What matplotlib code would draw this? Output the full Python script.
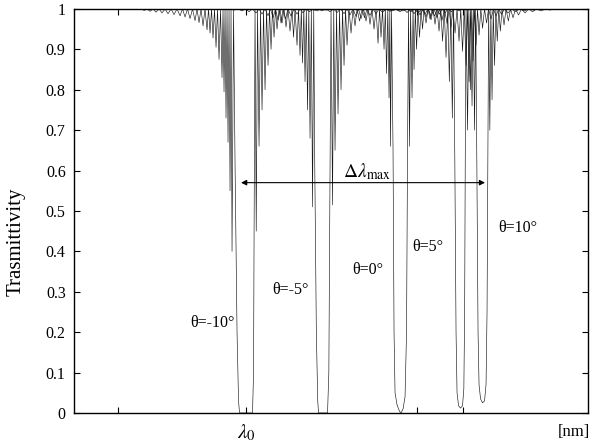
import matplotlib
matplotlib.use('Agg')
import matplotlib.pyplot as plt

plt.rcParams['font.family'] = ['Liberation Serif', 'DejaVu Serif']
plt.rcParams['mathtext.fontset'] = 'stix'

# relative wavelength (arbitrary units) and transmittivity
wl_m10 = [60, 68, 70, 73, 76, 79, 82, 85, 88, 91, 94, 97, 100, 103, 106, 108.5, 111, 113.5,
          116, 118.5, 121, 123, 125, 127, 129, 131, 133, 134.5, 136, 137.5, 139, 140.5, 142,
          143.5, 145, 146.5, 148, 149, 150, 151, 152, 153, 154, 155, 156, 157, 158, 159.5,
          161, 163, 164.5, 165.5, 178.5, 179.5, 180.3, 181,
          182.2, 183.5, 185, 186.5, 188, 189.5, 191, 192.5, 194, 195.5, 197, 198.5, 200, 201.5,
          203, 205, 207, 209, 211.5, 214, 217, 220, 223, 226, 229, 232, 235.5, 239, 243, 247,
          252, 257, 270]
t_m10 = [1, 1, .996, 1, .994, 1, .992, 1, .99, 1, .988, 1, .986, 1, .983, 1, .98, 1,
         .976, 1, .971, 1, .966, 1, .958, 1, .948, 1, .94, 1, .928, 1, .905,
         1, .875, 1, .83, 1, .795, 1, .73, 1, .67, 1, .55, 1, .40, 1,
         .62, .2, .03, 0, 0, .1, .6, 1,
         .45, 1, .66, 1, .75, 1, .80, 1, .86, 1, .90, 1, .93, 1,
         .95, 1, .965, 1, .975, 1, .982, 1, .987, 1, .99, 1, .993, 1, .995, 1,
         .997, 1, 1]

wl_m5 = [140, 150, 155, 160, 164, 168, 171.5, 175, 178.5, 182, 185, 188, 191, 194, 196.5,
         199, 201.5, 204, 206, 208, 210, 212, 214, 216, 218, 219.5, 221, 223, 224.5, 226,
         227.3, 228.5, 229.8, 231, 232.3, 233.5, 234.8, 236, 237.3, 238.5, 239.7,
         240.7, 242.3, 243.7, 244.5, 253.5, 254.8, 256, 257,
         258.5, 259.7, 261, 262.5, 264, 265.5, 267, 268.5, 270, 271.5, 273, 275, 277, 279,
         281, 283, 285.5, 288, 290.5, 293, 296, 299, 302, 305, 308.5, 312, 316, 320, 324.5,
         329, 334, 339, 350]
t_m5 = [1, .998, 1, .997, 1, .995, 1, .993, 1, .99, 1, .987, 1, .983, 1,
        .978, 1, .972, 1, .965, 1, .955, 1, .945, 1, .93, 1, .91, 1, .885,
        1, .866, 1, .82, 1, .75, 1, .68, 1, .51, 1,
        .62, .2, .03, 0, 0, .1, .6, 1,
        .515, 1, .65, 1, .74, 1, .80, 1, .86, 1, .91, 1, .94, 1,
        .958, 1, .97, 1, .978, 1, .984, 1, .988, 1, .991, 1, .994, 1, .996,
        1, .998, 1, 1]

wl_0 = [220, 230, 235, 240, 244, 248, 252, 256, 259.5, 263, 266.5, 270, 273, 276, 279, 282,
        284.5, 287, 289.5, 292, 294, 296, 298, 300, 302, 304, 305.5, 307, 308.5, 310, 311.3,
        312.5, 313.8, 315, 315.8, 316.5, 317.5,
        319, 320, 321, 323, 325.5, 327, 329, 331, 332.5, 333.5, 334.5,
        335.5, 336.5, 338, 339, 340, 341.3, 342.5, 344, 345.5, 347, 348.5, 350, 352, 354,
        356, 358, 360.5, 363, 365.5, 368, 371, 374, 377.5, 381, 385, 389, 393.5, 398, 403,
        408, 420]
t_0 = [1, .998, 1, .997, 1, .995, 1, .993, 1, .991, 1, .988, 1, .985, 1, .981,
       1, .976, 1, .97, 1, .962, 1, .95, 1, .915, 1, .93, 1, .9, 1,
       .84, 1, .78, 1, .66, 1,
       .65, .2, .05, .02, .004, 0, .01, .04, .2, .65, 1,
       .66, 1, .78, 1, .85, 1, .9, 1, .93, 1, .95, 1, .965, 1,
       .975, 1, .982, 1, .987, 1, .99, 1, .993, 1, .995, 1, .997, 1, .998,
       1, 1]

wl_p5 = [290, 300, 305, 310, 314, 318, 322, 326, 329.5, 333, 336.5, 340, 343, 346, 349, 352,
         354.5, 357, 359, 361, 363, 365, 366.8, 368.5, 370.2, 372, 373.7, 375.3, 376.8,
         378.3, 379.5,
         380.8, 382, 383, 384.5, 386.5, 388.5, 389.8, 390.6, 391.2, 392,
         393.5, 394.8, 396.3, 397.7, 399, 400.5, 402, 403.5, 405, 406.8, 408.5, 410.5,
         412.5, 414.5, 417, 419.5, 422, 424.5, 427.5, 430.5, 434, 437.5, 441.5, 445.5, 450,
         454.5, 459.5, 464.5, 470, 475, 485]
t_p5 = [1, .998, 1, .997, 1, .995, 1, .993, 1, .991, 1, .988, 1, .985, 1, .98,
        1, .973, 1, .962, 1, .945, 1, .92, 1, .88, 1, .82, 1,
        .73, 1,
        .62, .2, .05, .018, .012, .018, .06, .25, .62, 1,
        .70, 1, .8, 1, .87, 1, .91, 1, .935, 1, .952, 1,
        .965, 1, .975, 1, .982, 1, .987, 1, .99, 1, .993, 1, .995,
        1, .997, 1, .998, 1, 1]

wl_p10 = [300, 310, 315, 320, 324.5, 329, 333, 337, 340.5, 344, 347.5, 351, 354, 357, 360,
          363, 365.5, 368, 370.5, 373, 375, 377, 379, 381, 383, 385, 386.7, 388.5, 390.2,
          392, 393.5, 395, 396.5, 398, 399.3, 400.5, 401.6,
          402.8, 404, 405, 406.5, 408.5, 410.5, 412, 413, 413.8, 414.6,
          415.8, 416.8, 418, 419.2, 420.5, 421.8, 423.2, 424.7, 426.3, 428, 430, 432, 434.3,
          436.5, 439, 441.5, 444.5, 447.5, 451, 454.5, 458.5, 462.5, 467, 471.5, 476, 479,
          485]
t_p10 = [1, .998, 1, .997, 1, .995, 1, .993, 1, .99, 1, .987, 1, .983, 1,
         .978, 1, .972, 1, .964, 1, .955, 1, .94, 1, .92, 1, .895, 1,
         .86, 1, .82, 1, .76, 1, .70, 1,
         .62, .2, .07, .035, .025, .03, .07, .25, .62, 1,
         .7, 1, .775, 1, .86, 1, .92, 1, .945, 1, .96, 1, .97,
         1, .978, 1, .985, 1, .99, 1, .993, 1, .995, 1, .997, 1,
         1]

curves = [(wl_m10, t_m10), (wl_m5, t_m5), (wl_0, t_0), (wl_p5, t_p5), (wl_p10, t_p10)]

angle_labels = [u'\u03b8=-10\u00b0', u'\u03b8=-5\u00b0', u'\u03b8=0\u00b0', u'\u03b8=5\u00b0', u'\u03b8=10\u00b0']
label_pos = [(138, 0.223), (216, 0.304), (294, 0.354), (354, 0.411), (444, 0.458)]

yticks = [0, 0.1, 0.2, 0.3, 0.4, 0.5, 0.6, 0.7, 0.8, 0.9, 1]
ytick_labels = ['0', '0.1', '0.2', '0.3', '0.4', '0.5', '0.6', '0.7', '0.8', '0.9', '1']
xticks = [44, 172, 343, 389]
xtick_labels = ['', r'$\lambda_0$', '', '']

lambda_lo, lambda_hi = 167, 411   # ends of the delta-lambda arrow
arrow_level = 0.57


def main():
    fig = plt.figure(figsize=(5.97, 4.45), dpi=100)
    ax = fig.add_axes([0.124, 0.072, 0.861, 0.908])

    for wl, t in curves:
        ax.plot(wl, t, color='#1a1a1a', lw=0.45)

    for text, (x, y) in zip(angle_labels, label_pos):
        ax.text(x, y, text, ha='center', va='center', fontsize=11.5)

    ax.annotate('', xy=(lambda_lo, arrow_level), xytext=(lambda_hi, arrow_level),
                arrowprops=dict(arrowstyle='<|-|>', color='black', lw=0.8,
                                mutation_scale=8, shrinkA=0, shrinkB=0))
    ax.text((lambda_lo + lambda_hi) / 2 + 4, arrow_level + 0.028,
            r'$\Delta\lambda_{\rm max}$', ha='center', va='center', fontsize=14)

    ax.set_xlim(0, 514)
    ax.set_ylim(0, 1)
    ax.set_yticks(yticks)
    ax.set_yticklabels(ytick_labels, fontsize=11.5)
    ax.set_xticks(xticks)
    ax.set_xticklabels(xtick_labels, fontsize=15)
    ax.tick_params(direction='in', length=4, width=0.8, top=True, right=True)
    ax.tick_params(axis='x', pad=7)
    ax.tick_params(axis='y', pad=6)
    for s in ax.spines.values():
        s.set_linewidth(1.0)

    ax.set_ylabel('Trasmittivity', fontsize=15)
    ax.yaxis.set_label_coords(-0.095, 0.423)
    ax.text(500, -0.048, '[nm]', ha='center', va='center', fontsize=12)

    fig.savefig('out.png', dpi=100)


if __name__ == '__main__':
    main()
